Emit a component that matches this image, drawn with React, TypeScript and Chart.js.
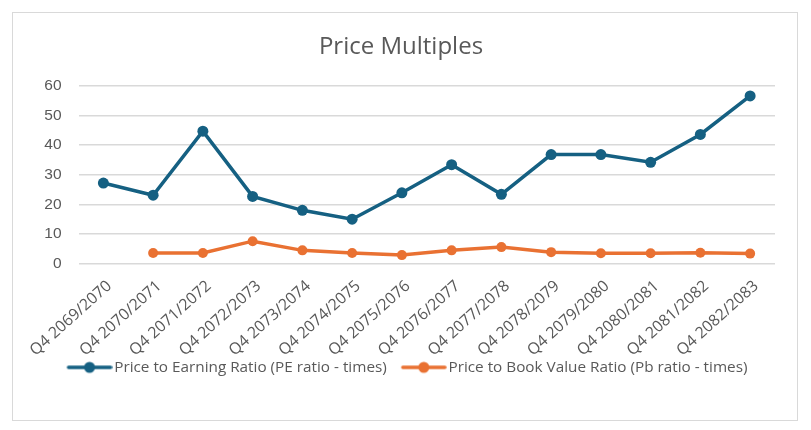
import React, { useEffect, useRef } from "react";
import { Chart, registerables } from "chart.js";

Chart.register(...registerables);

const quarters = [
  "Q4 2069/2070",
  "Q4 2070/2071",
  "Q4 2071/2072",
  "Q4 2072/2073",
  "Q4 2073/2074",
  "Q4 2074/2075",
  "Q4 2075/2076",
  "Q4 2076/2077",
  "Q4 2077/2078",
  "Q4 2078/2079",
  "Q4 2079/2080",
  "Q4 2080/2081",
  "Q4 2081/2082",
  "Q4 2082/2083",
];
const peRatio = [27.2, 23.1, 44.7, 22.7, 18.0, 15.0, 23.9, 33.4, 23.4, 36.8, 36.8, 34.2, 43.6, 56.6];
const pbRatio = [null, 3.6, 3.6, 7.6, 4.5, 3.6, 2.9, 4.5, 5.6, 3.9, 3.5, 3.5, 3.7, 3.4];
const yTicks = [0, 10, 20, 30, 40, 50, 60];

const BLUE = "#156082";
const ORANGE = "#E97132";
const TEXT = "#595959";
const GRID = "#d9d9d9";

// legend marker: a line with a dot, like Excel. The canvas is wider than the
// legend box so the empty left part gives the gap between legend entries.
const MARK_BOX = 52;
function legendMarker(color: string, lineW: number, r: number) {
  const c = document.createElement("canvas");
  c.width = 64;
  c.height = 14;
  const g = c.getContext("2d")!;
  g.strokeStyle = color;
  g.lineWidth = lineW;
  g.lineCap = "round";
  g.beginPath();
  g.moveTo(20, 7);
  g.lineTo(62, 7);
  g.stroke();
  g.fillStyle = color;
  g.beginPath();
  g.arc(41, 7, r, 0, Math.PI * 2);
  g.fill();
  return c;
}

const PriceMultiples: React.FC = () => {
  const chartRef = useRef<HTMLCanvasElement>(null);
  const chartInstance = useRef<Chart | null>(null);

  useEffect(() => {
    if (!chartRef.current) return;
    const ctx = chartRef.current.getContext("2d");
    if (!ctx) return;
    if (chartInstance.current) chartInstance.current.destroy();

    const markers = [legendMarker(BLUE, 3.5, 5.5), legendMarker(ORANGE, 3.5, 5.5)];

    chartInstance.current = new Chart(ctx, {
      type: "line",
      data: {
        labels: quarters,
        datasets: [
          {
            label: "Price to Earning Ratio (PE ratio - times)",
            data: peRatio,
            borderColor: BLUE,
            backgroundColor: BLUE,
            borderWidth: 3.5,
            pointRadius: 5.5,
            pointHoverRadius: 5.5,
            pointBorderWidth: 0,
            tension: 0,
          },
          {
            label: "Price to Book Value Ratio (Pb ratio - times)",
            data: pbRatio,
            borderColor: ORANGE,
            backgroundColor: ORANGE,
            borderWidth: 3.5,
            pointRadius: 5,
            pointHoverRadius: 5,
            pointBorderWidth: 0,
            tension: 0,
          },
        ],
      },
      options: {
        responsive: false,
        animation: false,
        layout: {
          padding: { left: 27, right: 36, top: 0, bottom: 45 },
        },
        plugins: {
          title: {
            display: true,
            text: "Price Multiples",
            color: TEXT,
            font: { family: "'Open Sans', sans-serif", size: 24, weight: "normal" },
            padding: { top: 33, bottom: 24 },
          },
          legend: {
            position: "bottom",
            labels: {
              color: TEXT,
              font: { family: "'Open Sans', sans-serif", size: 15.3 },
              usePointStyle: true,
              pointStyleWidth: MARK_BOX,
              padding: 2,
              generateLabels: (chart) => {
                const items = Chart.defaults.plugins.legend.labels.generateLabels(chart);
                items.forEach((it, i) => {
                  it.pointStyle = markers[i];
                });
                return items;
              },
            },
          },
          tooltip: { enabled: false },
        },
        scales: {
          x: {
            offset: true,
            grid: { display: false },
            border: { display: false },
            ticks: {
              color: TEXT,
              font: { family: "'Open Sans', sans-serif", size: 15.8 },
              minRotation: 42,
              maxRotation: 42,
              padding: 5,
              labelOffset: 6,
              autoSkip: false,
            },
            afterFit: (scale: any) => {
              scale.height = 94;
              // the long rotated labels run a little past the axis box; don't clip them
              scale._computeLabelArea = () => undefined;
            },
          },
          y: {
            min: yTicks[0],
            max: yTicks[yTicks.length - 1],
            afterBuildTicks: (scale) => {
              scale.ticks = yTicks.map((v) => ({ value: v }));
            },
            grid: { color: GRID, lineWidth: 1.5, drawTicks: false },
            border: { display: false },
            ticks: {
              color: TEXT,
              font: { family: "'Liberation Sans', Arial, sans-serif", size: 15.5 },
              padding: 17,
            },
            afterFit: (scale) => {
              scale.width = 78.5 - 27;
            },
          },
        },
      },
    });

    return () => {
      if (chartInstance.current) {
        chartInstance.current.destroy();
        chartInstance.current = null;
      }
    };
  }, []);

  return <canvas ref={chartRef} width={811} height={430} style={{ display: "block" }}></canvas>;
};

export default function App() {
  return (
    <div style={{ position: "fixed", left: 0, top: 0, width: 811, height: 430, background: "#fff" }}>
      <div
        style={{
          position: "absolute",
          left: 12,
          top: 12,
          width: 784,
          height: 407,
          border: `1.5px solid ${GRID}`,
        }}
      />
      <div style={{ position: "absolute", left: 0, top: 0 }}>
        <PriceMultiples />
      </div>
    </div>
  );
}
